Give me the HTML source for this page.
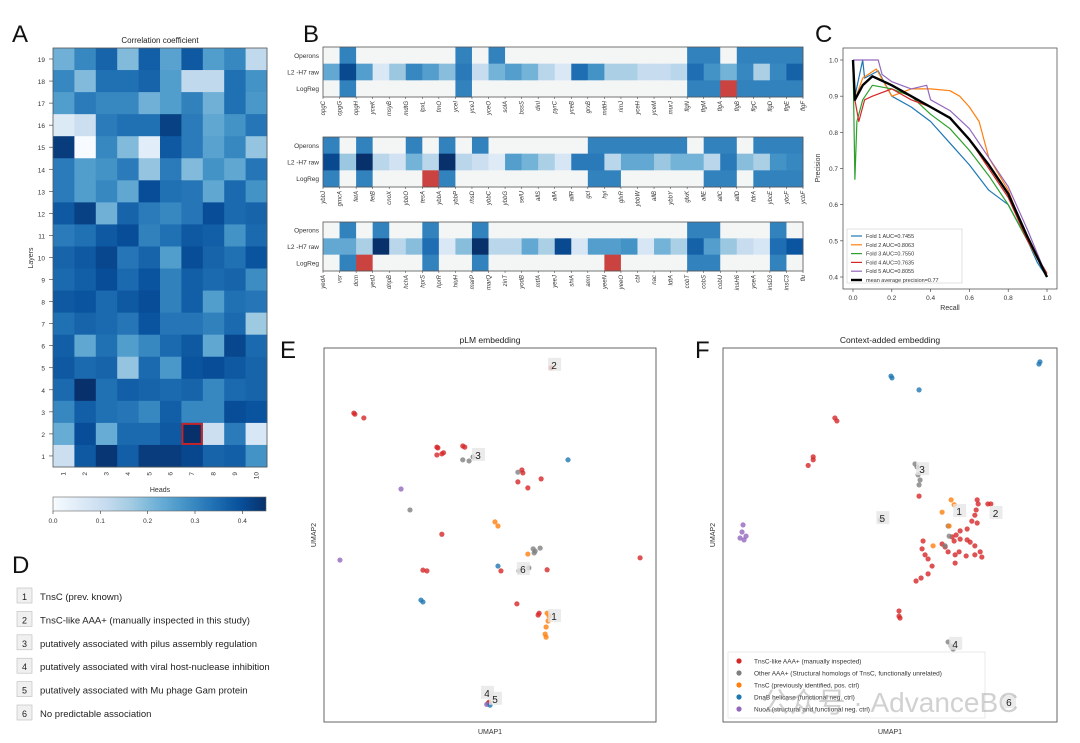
<!DOCTYPE html>
<html><head><meta charset="utf-8"><style>
body{margin:0;background:#fff;}
svg{display:block;font-family:"Liberation Sans","Noto Sans CJK SC",sans-serif;}
</style></head><body>
<svg id="fig" width="1080" height="743" viewBox="0 0 1080 743"></svg>
<script>
// ---------- Panel A data ----------
const aHeads=[1,2,3,4,5,6,7,8,9,10];
const aLayers=[19,18,17,16,15,14,13,12,11,10,9,8,7,6,5,4,3,2,1];
const aValues=[
[.22,.3,.36,.2,.37,.25,.38,.26,.3,.12],
[.3,.2,.34,.34,.36,.26,.12,.12,.34,.28],
[.26,.32,.3,.3,.22,.26,.31,.22,.34,.27],
[.06,.1,.32,.34,.34,.42,.32,.24,.28,.33],
[.43,0,.3,.2,.05,.38,.32,.25,.3,.18],
[.32,.26,.28,.32,.18,.32,.2,.28,.24,.33],
[.32,.26,.3,.24,.4,.34,.33,.24,.35,.28],
[.38,.42,.22,.36,.32,.3,.33,.4,.35,.36],
[.32,.34,.38,.4,.31,.34,.38,.37,.28,.35],
[.36,.38,.41,.33,.36,.26,.4,.36,.34,.39],
[.35,.37,.4,.35,.39,.31,.37,.35,.36,.29],
[.38,.39,.35,.38,.4,.31,.37,.26,.34,.33],
[.34,.36,.35,.33,.39,.33,.33,.31,.35,.17],
[.37,.24,.34,.26,.3,.35,.38,.24,.41,.35],
[.38,.35,.36,.18,.35,.27,.39,.4,.38,.36],
[.35,.45,.34,.37,.36,.35,.36,.3,.35,.36],
[.3,.37,.34,.33,.3,.37,.3,.3,.4,.39],
[.23,.4,.23,.35,.35,.38,.45,.1,.32,.07],
[.1,.38,.44,.37,.43,.43,.41,.36,.37,.28]];
const aCbTicks=[0,0.1,0.2,0.3,0.4];
// ---------- Panel B data ----------
const bRows=["Operons","L2 -H7 raw","LogReg"];
const bGenes1=["opgC","opgG","opgH","yceK","msyB","mdtG","lpxL","fmO","yceI","yceJ","yceO","solA","bssS","dinI","pyrC","yceB","grxB","mdtH","rimJ","yceH","yceM","murJ","flgN","flgM","flgA","flgB","flgC","flgD","flgE","flgF"];
const bGenes2=["ybbJ","gmcA","fetA","fetB","cnoX","ybbO","tesA","ybbA","ybbP","rhsD","ybbC","ybbG","selU","allS","allA","allR","gcl","hyi","glxR","ybbW","allB","ybbY","glxK","allE","allC","allD","fdrA","ybcE","ybcF","ycbF"];
const bGenes3=["yedA","vsr","dcm","yedJ","dnpB","hchA","hprS","hprR","hiuH","marP","marQ","zinT","yodB","mtfA","yeeJ","shiA","amn","yeeN","yeeO","cbl","nac","ldtA","cobT","cobS","cobU","insH6","yoeA","insD3","insC3","flu"];
// 0 white, 1 blue, 2 red
const bOp1=[0,1,0,0,0,0,0,0,1,0,1,0,0,0,0,0,0,0,0,0,0,0,1,1,0,1,1,1,1];
const bRaw1=[.5,.9,.55,.1,.35,.65,.55,.4,.7,.2,.45,.55,.45,.25,.1,.75,.6,.3,.3,.2,.2,.25,.75,.6,.45,.65,.3,.65,.8];
const bLR1=[0,1,0,0,0,0,0,0,1,0,0,0,0,0,0,0,0,0,0,0,0,0,1,1,2,1,1,1,1];
const bOp2=[1,0,1,0,0,1,0,1,0,1,0,0,0,0,0,0,1,1,1,1,1,1,0,1,1,0,1,1,1];
const bRaw2=[.9,.35,1,.25,.15,.45,.25,1,.25,.18,.08,.55,.45,.3,.12,.7,.7,.25,.5,.5,.35,.45,.45,.25,.7,.4,.3,.6,.65];
const bLR2=[1,0,1,0,0,0,2,1,0,0,0,0,0,0,0,0,1,1,0,0,0,0,0,1,1,0,1,1,1];
const bOp3=[0,1,0,1,0,0,1,0,0,1,0,0,0,0,0,0,0,0,0,0,0,0,1,1,0,0,0,1,0];
const bRaw3=[.5,.5,.3,1,.25,.4,.75,.1,.4,1,.25,.25,.5,.3,.9,.12,.55,.55,.6,.12,.45,.3,.8,.55,.35,.2,.12,.75,.85];
const bLR3=[0,1,2,0,0,0,1,0,0,1,0,0,0,0,0,0,0,2,0,0,0,0,1,1,0,0,0,1,0];
// ---------- Panel C data ----------
const cFoldNames=["Fold 1 AUC=0.7455","Fold 2 AUC=0.8063","Fold 3 AUC=0.7550","Fold 4 AUC=0.7635","Fold 5 AUC=0.8055","mean average precision=0.77"];
const cRecall1=[0,0.01,0.05,0.06,0.13,0.2,0.3,0.4,0.5,0.6,0.7,0.8,0.85,0.9,0.95,1];
const cPrec1=[1,0.9,1,0.95,0.97,0.9,0.87,0.83,0.77,0.71,0.64,0.6,0.55,0.5,0.44,0.4];
const cRecall2=[0,0.01,0.05,0.12,0.2,0.3,0.4,0.5,0.55,0.6,0.65,0.7,0.8,0.85,0.9,0.95,1];
const cPrec2=[1,0.89,0.95,0.975,0.9,0.92,0.92,0.915,0.9,0.87,0.83,0.73,0.64,0.57,0.5,0.45,0.41];
const cRecall3=[0,0.01,0.02,0.05,0.1,0.2,0.3,0.4,0.5,0.6,0.7,0.8,0.9,1];
const cPrec3=[1,0.67,0.83,0.89,0.93,0.92,0.9,0.85,0.81,0.75,0.68,0.6,0.5,0.41];
const cRecall4=[0,0.01,0.03,0.06,0.1,0.2,0.3,0.4,0.5,0.6,0.7,0.8,0.9,1];
const cPrec4=[1,0.89,0.83,0.89,0.9,0.92,0.89,0.87,0.84,0.78,0.7,0.62,0.5,0.41];
const cRecall5=[0,0.13,0.15,0.2,0.3,0.38,0.4,0.5,0.6,0.7,0.8,0.9,1];
const cPrec5=[1,1,0.96,0.94,0.92,0.93,0.89,0.86,0.81,0.73,0.65,0.53,0.4];
const cRecallM=[0,0.01,0.05,0.1,0.2,0.3,0.4,0.5,0.6,0.7,0.8,0.9,1];
const cPrecM=[1,0.89,0.93,0.955,0.93,0.9,0.87,0.84,0.78,0.71,0.63,0.51,0.4];
const cTicksX=[0,0.2,0.4,0.6,0.8,1.0];
const cTicksY=[0.4,0.5,0.6,0.7,0.8,0.9,1.0];
// ---------- Panel D ----------
const dItems=["TnsC (prev. known)","TnsC-like AAA+ (manually inspected in this study)","putatively associated with pilus assembly regulation","putatively associated with viral host-nuclease inhibition","putatively associated with Mu phage Gam protein","No predictable association"];
// ---------- Panel E/F scatter (UMAP units 0-100) ----------
const eClass=["r","r","r","r","r","r","r","r","r","r","r","r","r","r","r","r","r","r","r","r","r","r","r","r","r","g","g","g","g","g","g","g","g","g","g","g","o","o","o","o","o","o","o","o","o","b","b","b","b","p","p","g","r","p","b"];
const eU1=[9,9.3,12,34.3,34,36,34,35.5,41.8,42.4,59.6,59.9,58.4,61.4,65.4,35.5,29.8,31,53.3,58.1,64.5,64.8,95.2,68.4,67.2,41.8,43.7,44.9,25.9,58.4,63.3,63,63.6,61.7,58.7,65.1,51.5,52.4,61.4,67.8,67.5,66.9,66.6,66.9,67.2,73.5,52.4,29.2,29.8,23.2,4.8,49.4,49.7,49,50];
const eU2=[82.6,82.3,81.3,73.3,73.5,72,71.4,71.7,73.8,73.5,67.4,66.6,64.2,62.6,65,50.2,40.6,40.4,40.4,31.6,28.6,29.1,43.9,94.7,40.7,70.1,69.8,70.9,56.7,66.8,45.2,46.3,45.7,41.2,40.4,46.5,53.5,52.4,44.9,28.3,27,25.4,23.5,22.7,29.1,70.1,41.7,32.6,32.1,62.3,43.3,5,5.3,4.7,4.5];
const eLabelNums=["2","3","6","1","4","5"];
const eLabelU1=[69.3,46.4,59.9,69.3,49.1,51.5];
const eLabelU2=[95.5,71.4,40.9,28.3,7.8,6.2];
const fClass=["b","b","b","b","b","r","r","r","r","r","r","r","r","r","r","r","r","r","r","r","r","r","r","r","r","r","r","r","r","r","r","r","r","r","r","r","r","r","r","r","r","r","r","r","r","r","r","r","r","g","g","g","g","g","g","g","g","g","g","g","g","o","o","o","o","o","p","p","p","p","p"];
const fU1=[50.3,50.6,58.7,94.6,94.9,33.5,34.1,27,27,25.5,58.7,76.1,76.4,75.8,75.4,74.5,76.1,73.1,71,69.8,68.6,65.6,66.5,69.2,71,73.1,74,75.4,77,77.5,75.4,72.8,70.7,69.5,67.4,59.9,59.6,60.5,61.4,62.6,61.4,59.3,57.8,69.5,52.7,52.7,53,79.3,80.2,57.5,58.1,58.4,59,58.7,47.1,66.5,67.4,67.7,67.4,68.3,68.9,68.3,69.2,65.6,62.9,67.7,6,5.7,5.1,6.3,6.9];
const fU2=[92.5,92,88.8,95.7,96.3,81.3,80.5,70.1,70.9,68.6,60.4,59.4,58.3,56.7,55.3,53.7,53.2,51.6,51.1,50,49.5,47.6,46.8,48.4,48.9,48.7,48.1,47.1,45.5,44.1,44.7,44.4,45.5,44.7,45.5,48.4,46.3,44.7,43.6,41.7,39.6,38.5,37.7,42.5,29.7,28.3,27.8,58.3,58.3,69,68.2,66.1,64.7,63.4,54,47.1,52.4,49.7,21.4,20.3,19.5,59.4,58.1,56.1,47.1,52.4,52.7,50.8,49.2,48.7,49.7];
const fLabelNums=["3","1","2","5","4","6"];
const fLabelU1=[59.6,70.7,81.6,47.7,69.5,85.6];
const fLabelU2=[67.6,56.4,55.9,54.5,20.9,5.3];
const legendF=["TnsC-like  AAA+ (manually inspected)","Other AAA+ (Structural  homologs of TnsC, functionally unrelated)","TnsC (previously identified, pos. ctrl)","DnaB helicase (functional neg. ctrl)","NuoA (structural and functional neg. ctrl)"];

const NS="http://www.w3.org/2000/svg";
const svg=document.getElementById('fig');
function mk(tag,at,parent){const e=document.createElementNS(NS,tag);for(const k in at)e.setAttribute(k,at[k]);(parent||svg).appendChild(e);return e;}
function txt(s,at,parent){const e=mk('text',at,parent);e.textContent=s;return e;}
const stops=[[247,251,255],[222,235,247],[198,219,239],[158,202,225],[107,174,214],[66,146,198],[33,113,181],[8,81,156],[8,48,107]];
function blues(t){t=Math.max(0,Math.min(1,t));const p=t*8,i=Math.min(7,Math.floor(p)),f=p-i;const a=stops[i],b=stops[i+1];return `rgb(${a.map((v,j)=>Math.round(v+(b[j]-v)*f)).join(',')})`;}

// Panel letters
[["A",12,42],["B",303,42],["C",815,42],["D",12,573],["E",280,358],["F",695,358]].forEach(([l,x,y])=>{
 const t=txt(l,{x:x,y:y,'font-size':24,fill:'#111'});
 
 
});

// ----- Panel A -----
const aX0=53,aX1=267,aY0=48,aY1=467;
const aScaleX=i=>aX0+i*(aX1-aX0)/aHeads.length;
const aScaleY=j=>aY0+j*(aY1-aY0)/aLayers.length;
const gA=mk('g',{});


aValues.forEach((row,j)=>row.forEach((v,i)=>{
 const r=mk('rect',{x:aScaleX(i),y:aScaleY(j),width:(aX1-aX0)/10+0.5,height:(aY1-aY0)/19+0.5,fill:blues(v/0.45)},gA);
 
 
}));
const hl=mk('rect',{x:aScaleX(6)+1,y:aScaleY(17)+1,width:(aX1-aX0)/10-2,height:(aY1-aY0)/19-2,fill:'none',stroke:'#c0262b','stroke-width':2});


mk('rect',{x:aX0,y:aY0,width:aX1-aX0,height:aY1-aY0,fill:'none',stroke:'#555','stroke-width':0.8});
const at=txt('Correlation coefficient',{x:(aX0+aX1)/2,y:43,'font-size':8,'text-anchor':'middle',fill:'#222'});


aLayers.forEach((l,j)=>{const t=txt(String(l),{x:45,y:aScaleY(j)+11+3,'font-size':6.5,'text-anchor':'end',fill:'#333'});
 
 
 mk('line',{x1:49,x2:53,y1:aScaleY(j)+11,y2:aScaleY(j)+11,stroke:'#333','stroke-width':0.6});});
aHeads.forEach((h,i)=>{const cx=aScaleX(i)+10.7;const t=txt(String(h),{x:cx+2,y:472,'font-size':6.5,fill:'#333',transform:`rotate(-90 ${cx+2} 472)`,'text-anchor':'end'});
 
 });
const ayl=txt('Layers',{x:33,y:258,'font-size':7,'text-anchor':'middle',fill:'#333',transform:'rotate(-90 33 258)'});


const axl=txt('Heads',{x:160,y:492,'font-size':7,'text-anchor':'middle',fill:'#333'});


const defs=mk('defs',{});const lg=mk('linearGradient',{id:'cb',x1:0,x2:1,y1:0,y2:0},defs);
for(let k=0;k<=8;k++)mk('stop',{offset:k/8,'stop-color':blues(k/8)},lg);
const cb=mk('rect',{x:53,y:497,width:213,height:14,fill:'url(#cb)',stroke:'#666','stroke-width':0.6});


aCbTicks.forEach(v=>{const x=53+v/0.45*213;mk('line',{x1:x,x2:x,y1:511,y2:514,stroke:'#333','stroke-width':0.6});
 const t=txt(v.toFixed(1),{x:x,y:523,'font-size':6.5,'text-anchor':'middle',fill:'#333'});
 
 });

// ----- Panel B -----
const bPanels=[[bGenes1,bOp1,bRaw1,bLR1,47,97],[bGenes2,bOp2,bRaw2,bLR2,137,187],[bGenes3,bOp3,bRaw3,bLR3,222,271]];
const bX0=323,bX1=803;
bPanels.forEach(([genes,op,raw,lr,y0,y1],p)=>{
 const g=mk('g',{});
 
 
 const n=op.length,cw=(bX1-bX0)/n,rh=(y1-y0)/3;
 [op,raw,lr].forEach((arr,r)=>arr.forEach((v,i)=>{
  let fill;
  if(r===1)fill=blues(0.05+v*0.95);else fill=v===0?'#f4f5f5':(v===1?'#3282be':'#cb4340');
  const c=mk('rect',{x:bX0+i*cw,y:y0+r*rh,width:cw+0.4,height:rh+0.4,fill:fill},g);
  
  
 }));
 mk('rect',{x:bX0,y:y0,width:bX1-bX0,height:y1-y0,fill:'none',stroke:'#555','stroke-width':0.8},g);
 bRows.forEach((rn,r)=>{const t=txt(rn,{x:bX0-4,y:y0+r*rh+rh/2+2.5,'font-size':6.5,'text-anchor':'end',fill:'#333'},g);
  
  });
 genes.forEach((gn,i)=>{const x=bX0+i*(bX1-bX0)/(genes.length-1);
  mk('line',{x1:x,x2:x,y1:y1,y2:y1+2,stroke:'#333','stroke-width':0.5},g);
  const t=txt(gn,{x:x+2,y:y1+4,'font-size':6,'font-style':'italic','text-anchor':'end',fill:'#333',transform:`rotate(-90 ${x+2} ${y1+4})`},g);
  
  });
});

// ----- Panel C -----
const cL=843,cR=1057,cT=48,cB=289;
const cx=v=>853+v*(1047-853);
const cy=v=>277-(v-0.4)/0.6*(277-60);
mk('rect',{x:cL,y:cT,width:cR-cL,height:cB-cT,fill:'#fff',stroke:'#555','stroke-width':0.8});
cTicksX.forEach(v=>{mk('line',{x1:cx(v),x2:cx(v),y1:cB,y2:cB+3,stroke:'#333','stroke-width':0.6});
 const t=txt(v.toFixed(1),{x:cx(v),y:cB+11,'font-size':6.5,'text-anchor':'middle',fill:'#333'});
 
 });
cTicksY.forEach(v=>{mk('line',{x1:cL-3,x2:cL,y1:cy(v),y2:cy(v),stroke:'#333','stroke-width':0.6});
 const t=txt(v.toFixed(1),{x:cL-5,y:cy(v)+2.5,'font-size':6.5,'text-anchor':'end',fill:'#333'});
 
 });
const cxl=txt('Recall',{x:950,y:310,'font-size':7,'text-anchor':'middle',fill:'#333'});


const cyl=txt('Precision',{x:820,y:168,'font-size':7,'text-anchor':'middle',fill:'#333',transform:'rotate(-90 820 168)'});


const cSeries=[[cRecall1,cPrec1,'#1f77b4',1.2],[cRecall2,cPrec2,'#ff7f0e',1.2],[cRecall3,cPrec3,'#2ca02c',1.2],[cRecall4,cPrec4,'#d62728',1.2],[cRecall5,cPrec5,'#9467bd',1.2],[cRecallM,cPrecM,'#000',2.4]];
cSeries.forEach(([xs,ys,col,w],k)=>{
 const d=xs.map((x,i)=>(i?'L':'M')+cx(x).toFixed(1)+','+cy(ys[i]).toFixed(1)).join('');
 const pth=mk('path',{d:d,fill:'none',stroke:col,'stroke-width':w,'stroke-linejoin':'round'});
 
 
});
const cLeg=mk('g',{});


mk('rect',{x:847,y:229,width:115,height:54,fill:'#fff','fill-opacity':0.85,stroke:'#ccc','stroke-width':0.6},cLeg);
cFoldNames.forEach((n,k)=>{const y=236+k*8.8;
 mk('line',{x1:851,x2:862,y1:y,y2:y,stroke:cSeries[k][2],'stroke-width':k<5?1.2:2.4},cLeg);
 const t=txt(n,{x:866,y:y+2,'font-size':5.5,fill:'#333'},cLeg);
 
 });

// ----- Panel D -----
dItems.forEach((s,k)=>{const y=597+k*23.4;
 const b=mk('rect',{x:17,y:y-9,width:15,height:15,fill:'#f0f0f0',stroke:'#bbb','stroke-width':0.6});
 
 
 const n=txt(String(k+1),{x:24.5,y:y+3,'font-size':9,'text-anchor':'middle',fill:'#222'});
 
 
 const t=txt(s,{x:40,y:y+3,'font-size':9.5,fill:'#222'});
 
 });

// ----- Panels E/F -----
const colors={r:'#d62728',g:'#7f7f7f',o:'#ff7f0e',b:'#1f77b4',p:'#9467bd'};
function scatter(L,R,T,B,cls,u1,u2,lnum,lu1,lu2,title,name){
 const sx=u=>L+u/100*(R-L), sy=u=>B-u/100*(B-T);
 const g=mk('g',{});
 
 
 mk('rect',{x:L,y:T,width:R-L,height:B-T,fill:'#fff',stroke:'#555','stroke-width':0.9},g);
 const tt=txt(title,{x:(L+R)/2,y:T-5,'font-size':8.5,'text-anchor':'middle',fill:'#222'},g);
 
 
 const xl=txt('UMAP1',{x:(L+R)/2,y:B+12,'font-size':7,'text-anchor':'middle',fill:'#333'},g);
 
 
 const yx=L-8,yy=(T+B)/2;
 const yl=txt('UMAP2',{x:yx,y:yy,'font-size':7,'text-anchor':'middle',fill:'#333',transform:`rotate(-90 ${yx} ${yy})`},g);
 
 
 cls.forEach((c,i)=>{const pt=mk('circle',{cx:sx(u1[i]),cy:sy(u2[i]),r:2.6,fill:colors[c],'fill-opacity':0.8},g);
  
  });
 lnum.forEach((n,i)=>{const x=sx(lu1[i]),y=sy(lu2[i]);
  mk('rect',{x:x-6,y:y-7,width:13,height:13,fill:'#e6e6e6','fill-opacity':0.8},g);
  const t=txt(n,{x:x,y:y+4,'font-size':10,'text-anchor':'middle',fill:'#222'},g);
  
  });
}
scatter(324,656,348,722,eClass,eU1,eU2,eLabelNums,eLabelU1,eLabelU2,'pLM embedding','panel-e-scatter');
scatter(723,1057,348,722,fClass,fU1,fU2,fLabelNums,fLabelU1,fLabelU2,'Context-added embedding','panel-f-scatter');
const fl=mk('g',{});


mk('rect',{x:728,y:652,width:257,height:66,fill:'#fff','fill-opacity':0.85,stroke:'#ddd','stroke-width':0.6},fl);
const lc=['r','g','o','b','p'];
legendF.forEach((s,k)=>{const y=661+k*12;
 mk('circle',{cx:739,cy:y,r:2.6,fill:colors[lc[k]]},fl);
 const t=txt(s,{x:754,y:y+2.5,'font-size':6.5,fill:'#333'},fl);
 
 });
const wm=txt('公众号 · AdvanceBC',{x:890,y:712,'font-size':28,'text-anchor':'middle',fill:'#999','fill-opacity':0.45});


</script>
</body></html>
